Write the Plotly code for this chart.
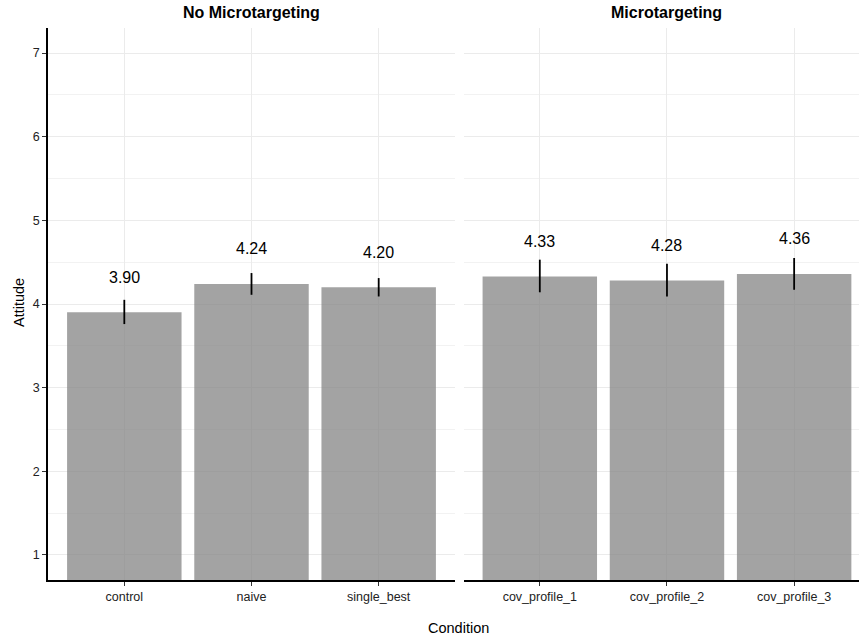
import plotly.graph_objects as go

W, H = 859, 640

# ---- data ----
panels = ["No Microtargeting", "Microtargeting"]
cats_left = ["control", "naive", "single_best"]
cats_right = ["cov_profile_1", "cov_profile_2", "cov_profile_3"]
means_left = [3.90, 4.24, 4.20]
means_right = [4.33, 4.28, 4.36]
ci_hi_left = [4.05, 4.37, 4.31]
ci_lo_left = [3.76, 4.11, 4.09]
ci_hi_right = [4.53, 4.48, 4.55]
ci_lo_right = [4.14, 4.09, 4.17]
y_ticks = [1, 2, 3, 4, 5, 6, 7]

FONT = "Liberation Sans, Arial, Helvetica, sans-serif"
BAR = "rgba(128,128,128,0.72)"
GRID = "#ebebeb"


def px_x(p):
    return p / W


def px_y(p):
    return 1 - p / H


fig = go.Figure()

for i, (cats, means, hi, lo) in enumerate([
    (cats_left, means_left, ci_hi_left, ci_lo_left),
    (cats_right, means_right, ci_hi_right, ci_lo_right),
]):
    xa = "x" if i == 0 else "x2"
    ya = "y" if i == 0 else "y2"
    fig.add_trace(go.Bar(
        x=cats, y=means, xaxis=xa, yaxis=ya,
        marker=dict(color=BAR, line=dict(width=0)),
        error_y=dict(type="data", symmetric=False,
                     array=[h - m for h, m in zip(hi, means)],
                     arrayminus=[m - l for m, l in zip(means, lo)],
                     color="black", thickness=1.8, width=0),
        showlegend=False, hoverinfo="skip",
    ))
    for c, m in zip(cats, means):
        fig.add_annotation(
            x=c, y=m + 0.42, xref=xa, yref=ya, text=f"{m:.2f}",
            showarrow=False, yanchor="middle", xanchor="center",
            font=dict(family=FONT, size=16, color="black"),
        )

ydom = [px_y(580), px_y(28)]
common_x = dict(
    type="category", showgrid=True, gridcolor=GRID, gridwidth=1,
    showline=True, linecolor="black", linewidth=1.5,
    ticks="outside", ticklen=4, tickcolor="#333", tickwidth=1,
    tickfont=dict(family=FONT, size=12.5, color="#222"), zeroline=False,
    fixedrange=True,
)
common_y = dict(
    range=[0.7, 7.3], tickvals=y_ticks, showgrid=True, gridcolor=GRID,
    gridwidth=1, zeroline=False, domain=ydom,
    minor=dict(tick0=0.5, dtick=1, showgrid=True, gridcolor="#f2f2f2",
               gridwidth=0.8, ticks=""),
    fixedrange=True,
)

fig.update_layout(
    width=W, height=H,
    margin=dict(l=0, r=0, t=0, b=0),
    paper_bgcolor="white", plot_bgcolor="white",
    bargap=0.1,
    font=dict(family=FONT, color="black"),
    xaxis=dict(domain=[px_x(48), px_x(455)], range=[-0.6, 2.6],
               anchor="y", **common_x),
    xaxis2=dict(domain=[px_x(463.5), 1.0], range=[-0.6, 2.51],
                anchor="y2", **common_x),
    yaxis=dict(anchor="x", showline=True, linecolor="black", linewidth=1.5,
               ticks="outside", ticklen=4, tickcolor="#333",
               tickfont=dict(family=FONT, size=12.5, color="#222"),
               **common_y),
    yaxis2=dict(anchor="x2", matches="y", showline=False,
                showticklabels=False, ticks="", **common_y),
)

# facet titles
fig.add_annotation(x=px_x(251.5), y=px_y(13), xref="paper", yref="paper",
                   text="<b>" + panels[0] + "</b>", showarrow=False,
                   font=dict(family=FONT, size=16, color="black"),
                   xanchor="center", yanchor="middle")
fig.add_annotation(x=px_x(666), y=px_y(13), xref="paper", yref="paper",
                   text="<b>" + panels[1] + "</b>", showarrow=False,
                   font=dict(family=FONT, size=16, color="black"),
                   xanchor="center", yanchor="middle")
# axis titles
fig.add_annotation(x=px_x(458.5), y=px_y(628), xref="paper", yref="paper",
                   text="Condition", showarrow=False,
                   font=dict(family=FONT, size=14.5, color="black"),
                   xanchor="center", yanchor="middle")
fig.add_annotation(x=px_x(19), y=px_y(303), xref="paper", yref="paper",
                   text="Attitude", showarrow=False, textangle=-90,
                   font=dict(family=FONT, size=14.5, color="black"),
                   xanchor="center", yanchor="middle")

fig.write_html("out.html")
